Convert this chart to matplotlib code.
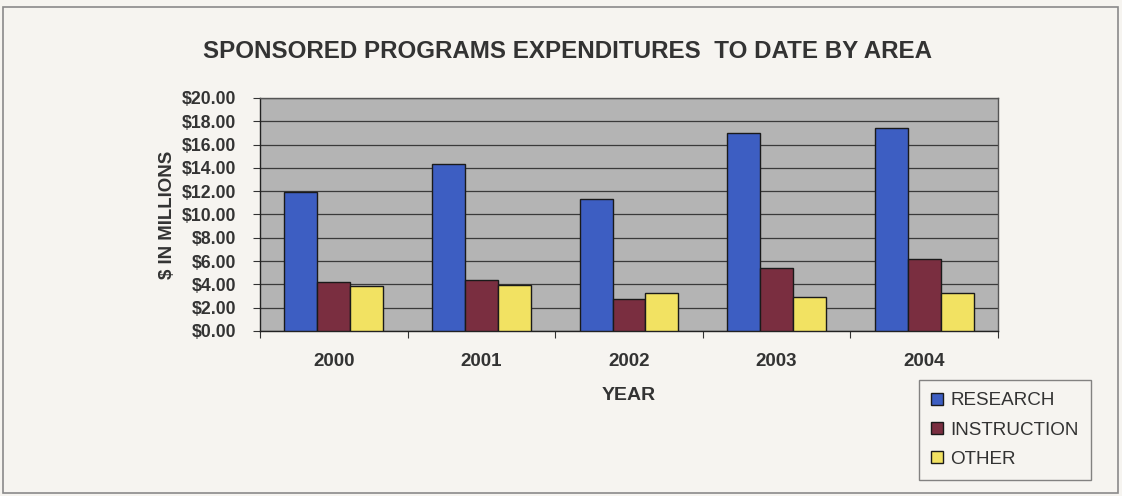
import matplotlib.pyplot as plt
import matplotlib.patches as mpatches
import numpy as np

plt.rcParams['font.family'] = ['Liberation Sans', 'DejaVu Sans']

# datos
anios = ['2000', '2001', '2002', '2003', '2004']
research = [11.95, 14.3, 11.3, 17.0, 17.4]
instruction = [4.2, 4.4, 2.75, 5.4, 6.2]
other = [3.85, 3.95, 3.3, 2.95, 3.25]
series = ['RESEARCH', 'INSTRUCTION', 'OTHER']
colores = ['#3d5ec2', '#7a2e40', '#f2e262']

fig = plt.figure(figsize=(11.22, 4.96), dpi=100)
fig.patch.set_facecolor('#f6f4f0')

# marco exterior del grafico
fig.patches.append(mpatches.Rectangle((0.003, 0.006), 0.993, 0.98, transform=fig.transFigure,
                                      fill=False, edgecolor='#8a8a8a', linewidth=1.2))

ax = fig.add_axes([0.2317, 0.3327, 0.6578, 0.4698])
ax.set_facecolor('#b4b4b4')

x = np.arange(len(anios))
w = 0.223
for i, (vals, nombre) in enumerate(zip([research, instruction, other], series)):
    ax.bar(x + (i - 1) * w, vals, w, color=colores[i], edgecolor='#1a1a1a',
           linewidth=1.0, label=nombre, zorder=3)

ax.set_xlim(-0.5, len(anios) - 0.5)
ax.set_ylim(0, 20)
ax.set_yticks(np.arange(0, 21, 2))
ax.set_yticklabels(['$%.2f' % v for v in np.arange(0, 21, 2)], fontsize=12.7, fontweight='bold', color='#333333')
ax.yaxis.grid(True, color='#3a3a3a', linewidth=0.9, zorder=1)
ax.set_axisbelow(True)

# ticks entre categorias
ax.set_xticks(np.arange(-0.5, len(anios), 1.0))
ax.set_xticklabels([])
ax.set_xticks(x, minor=True)
ax.set_xticklabels(anios, minor=True, fontsize=13.5, fontweight='bold', color='#333333')
ax.tick_params(axis='x', which='minor', length=0, pad=16)
ax.tick_params(axis='x', which='major', length=5, direction='out', color='#333333')
ax.tick_params(axis='y', length=5, direction='out', color='#333333', pad=12)

for s in ['left', 'bottom']:
    ax.spines[s].set_color('#222222')
    ax.spines[s].set_linewidth(1.0)
for s in ['top', 'right']:
    ax.spines[s].set_color('#555555')
    ax.spines[s].set_linewidth(1.0)

ax.set_xlabel('YEAR', fontsize=14, fontweight='bold', color='#333333', labelpad=12)
ax.set_ylabel('$ IN MILLIONS', fontsize=13.4, fontweight='bold', color='#333333', labelpad=4)

fig.text(0.506, 0.897, 'SPONSORED PROGRAMS EXPENDITURES  TO DATE BY AREA', ha='center', va='center',
         fontsize=17.4, fontweight='bold', color='#333333')

leg = fig.legend(loc='upper left', bbox_to_anchor=(0.819, 1 - 380 / 496), bbox_transform=fig.transFigure,
                 fontsize=13.6, frameon=True, fancybox=False, handlelength=0.6, handleheight=0.6,
                 handletextpad=0.4, labelspacing=0.65, borderpad=0.65, borderaxespad=0)
leg.get_frame().set_edgecolor('#666666')
leg.get_frame().set_facecolor('#f6f4f0')
leg.get_frame().set_linewidth(1.0)
for t in leg.get_texts():
    t.set_color('#333333')

plt.savefig('out.png', dpi=100, facecolor=fig.get_facecolor())
